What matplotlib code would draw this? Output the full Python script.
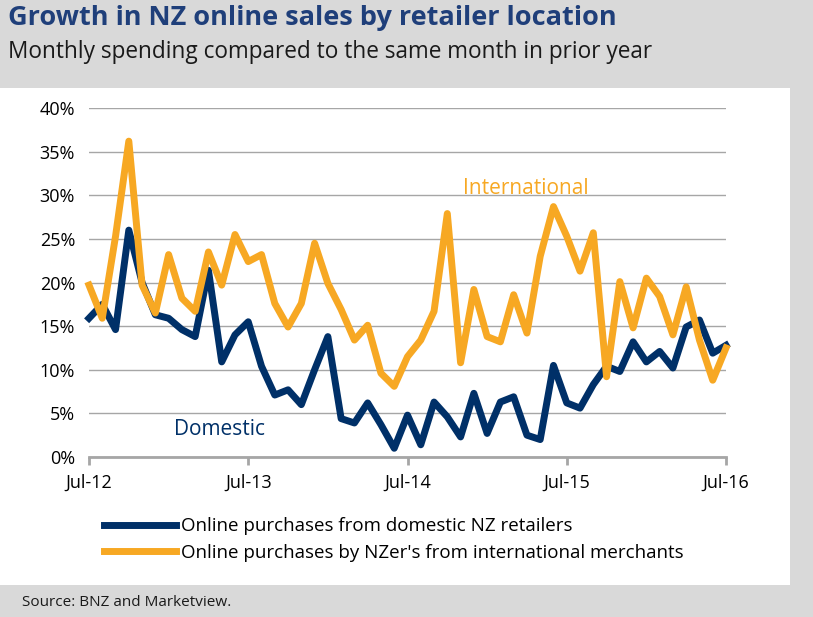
import matplotlib
matplotlib.use("Agg")
import matplotlib.pyplot as plt

domestic = [15.9, 17.5, 14.6, 26.0, 20.0, 16.3, 15.9, 14.6, 13.8, 21.4, 10.9, 14.0, 15.5,
            10.4, 7.1, 7.7, 6.0, 10.0, 13.8, 4.4, 3.9, 6.2, 3.7, 1.0, 4.8,
            1.4, 6.3, 4.6, 2.3, 7.3, 2.7, 6.3, 6.9, 2.5, 2.0, 10.5, 6.2,
            5.6, 8.3, 10.4, 9.8, 13.2, 10.9, 12.1, 10.2, 14.9, 15.7, 11.9, 12.8]
international = [19.7, 15.9, 25.3, 36.2, 19.7, 16.5, 23.2, 18.2, 16.7, 23.5, 19.7, 25.5, 22.4,
                 23.2, 17.6, 14.9, 17.6, 24.5, 19.9, 16.9, 13.4, 15.1, 9.6, 8.1, 11.5,
                 13.4, 16.7, 27.9, 10.8, 19.2, 13.8, 13.2, 18.6, 14.2, 23.0, 28.7, 25.3,
                 21.3, 25.7, 9.2, 20.1, 14.8, 20.5, 18.4, 14.0, 19.5, 13.4, 8.8, 12.5]
tick_labels = ["Jul-12", "Jul-13", "Jul-14", "Jul-15", "Jul-16"]
yticks = [0, 5, 10, 15, 20, 25, 30, 35, 40]

plt.rcParams['font.family'] = ['Open Sans', 'DejaVu Sans']
W, H = 813, 617
fig = plt.figure(figsize=(W/100, H/100), dpi=100, facecolor='#d9d9d9')
bg = fig.add_axes([0, 1-585/H, 790/W, (585-88)/H], zorder=0)
bg.set_facecolor('white')
bg.set_axis_off()
bg.add_patch(plt.Rectangle((0, 0), 1, 1, transform=bg.transAxes, facecolor='white', edgecolor='none'))

fig.text(8/W, 1-18/H, "Growth in NZ online sales by retailer location", fontsize=19.5,
         fontweight='bold', color='#1f3f7a', va='center')
fig.text(8/W, 1-52/H, "Monthly spending compared to the same month in prior year", fontsize=16.3,
         color='#1a1a1a', va='center')
fig.text(22/W, 1-603/H, "Source: BNZ and Marketview.", fontsize=11, color='#1a1a1a', va='center')

ax = fig.add_axes([89/W, 1-457/H, (726-89)/W, (457-108)/H], zorder=2)
ax.set_facecolor('none')
x = list(range(len(domestic)))
navy = '#003068'
orange = '#f7a823'
l1, = ax.plot(x, domestic, color=navy, lw=5, clip_on=False, zorder=3)
l2, = ax.plot(x, international, color=orange, lw=5, clip_on=False, zorder=4)
ax.set_xlim(0, 48)
ax.set_ylim(0, 40)
ax.set_yticks(yticks)
ax.set_yticklabels([f"{v}%" for v in yticks], fontsize=13)
ax.set_xticks([0, 12, 24, 36, 48])
ax.set_xticklabels(tick_labels, fontsize=13)
ax.yaxis.grid(True, color='#a6a6a6', lw=1)
ax.set_axisbelow(True)
for s in ['top', 'right', 'left']:
    ax.spines[s].set_visible(False)
ax.spines['bottom'].set_color('#a6a6a6')
ax.spines['bottom'].set_linewidth(2)
ax.tick_params(axis='y', length=0, pad=10)
ax.tick_params(axis='x', direction='out', length=6, width=2, color='#a6a6a6', pad=6)
ax.text(6.4, 2.5, "Domestic", fontsize=15, color=navy)
ax.text(28.2, 30.2, "International", fontsize=15, color=orange)
fig.legend([l1, l2], ["Online purchases from domestic NZ retailers",
                      "Online purchases by NZer's from international merchants"],
           loc='upper left', bbox_to_anchor=(95/W, 1-508/H), frameon=False, fontsize=13.5,
           handlelength=3.8, labelspacing=0.45, borderpad=0, handletextpad=0.3)
fig.savefig("out.png", dpi=100, facecolor=fig.get_facecolor())
